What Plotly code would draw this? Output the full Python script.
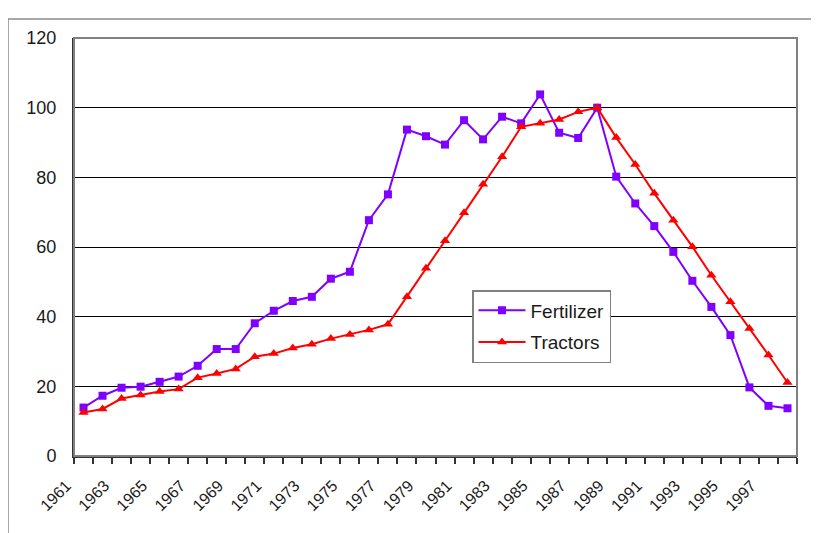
import plotly.graph_objects as go

years = list(range(1961, 1999))
fertilizer = [13.9, 17.3, 19.6, 19.9, 21.3, 22.8, 25.9, 30.7, 30.7, 38.1,
              41.7, 44.5, 45.7, 50.9, 52.9, 67.7, 75.1, 93.7, 91.8, 89.4,
              96.4, 90.9, 97.4, 95.5, 103.8, 92.8, 91.3, 100.0, 80.2, 72.5,
              66.0, 58.6, 50.3, 42.8, 34.7, 19.7, 14.4, 13.7]
tractors = [12.5, 13.5, 16.5, 17.5, 18.5, 19.2, 22.5, 23.7, 25.0, 28.5,
            29.4, 31.0, 32.1, 33.7, 34.9, 36.2, 37.8, 45.7, 53.9, 61.8,
            69.8, 78.0, 85.9, 94.5, 95.5, 96.6, 98.8, 100.0, 91.4, 83.7,
            75.4, 67.7, 60.1, 51.9, 44.3, 36.6, 29.0, 21.1]
tick_years = list(range(1961, 1998, 2))
tick_labels = [str(y) for y in tick_years]
y_ticks = [0, 20, 40, 60, 80, 100, 120]

FONT = "Liberation Sans, Arial, sans-serif"

fig = go.Figure()
fig.add_trace(go.Scatter(
    x=years, y=fertilizer, name="Fertilizer", mode="lines+markers",
    legendgroup="f",
    line=dict(color="#7F00FF", width=2),
    marker=dict(symbol="square", size=8, color="#7F00FF"),
))
fig.add_trace(go.Scatter(
    x=years, y=tractors, name="Tractors", mode="lines+markers",
    legendgroup="t",
    line=dict(color="#FF0000", width=2),
    marker=dict(symbol="triangle-up", size=9, color="#FF0000"),
))

OFF = 8  # default page body margin
W, H = 819, 533
# target plot area in page pixels: x 74..797, y 38..456
PL, PR, PT, PB = 74, 797, 38, 456
L, T = PL - OFF, PT - OFF
pw, ph = PR - PL, PB - PT
R, B = W - L - pw, H - T - ph

def px2paper_x(px):
    return (px - PL) / pw

def px2paper_y(py):
    return (PB - py) / ph

# outer chart frame
fig.add_shape(type="rect", xref="paper", yref="paper",
              x0=px2paper_x(8), x1=px2paper_x(850),
              y0=px2paper_y(570), y1=px2paper_y(19),
              line=dict(color="#8c8c8c", width=1.5), layer="below")
# plot area border
fig.add_shape(type="rect", xref="x domain", yref="y domain",
              x0=0, x1=1, y0=0, y1=1,
              line=dict(color="#808080", width=2), layer="above")

fig.update_layout(
    width=W, height=H,
    margin=dict(l=L, r=R, t=T, b=B, autoexpand=False),
    paper_bgcolor="white", plot_bgcolor="white",
    font=dict(family=FONT, size=17, color="#1a1a1a"),
    showlegend=True,
    legend=dict(
        x=px2paper_x(472), y=px2paper_y(290), xanchor="left", yanchor="top",
        bgcolor="white", bordercolor="#808080", borderwidth=1.5,
        font=dict(family=FONT, size=19, color="#1a1a1a"),
        traceorder="grouped", tracegroupgap=4, itemsizing="trace",
        itemwidth=47,
    ),
    xaxis=dict(
        range=[1960.5, 1998.5], automargin=False,
        tickmode="array", tickvals=tick_years, ticktext=tick_labels,
        tickangle=-45, ticks="", showgrid=False, zeroline=False,
        showline=True, linecolor="#333333", linewidth=2,
        tickfont=dict(family=FONT, size=16, color="#1a1a1a"),
        ticklabelshift=-17, ticklabelstandoff=12,
        minor=dict(tickmode="linear", tick0=1960.5, dtick=1,
                   ticks="outside", ticklen=6, tickcolor="#333333",
                   tickwidth=1.5, showgrid=False),
        fixedrange=True,
    ),
    yaxis=dict(
        range=[0, 120], tickmode="array", tickvals=y_ticks, automargin=False,
        ticks="", showgrid=True, gridcolor="#000000", gridwidth=1.2,
        zeroline=False, showline=True, linecolor="#333333", linewidth=2,
        tickfont=dict(family=FONT, size=18, color="#1a1a1a"),
        ticklabelstandoff=12,
        fixedrange=True,
    ),
)

fig.write_html("out.html")
